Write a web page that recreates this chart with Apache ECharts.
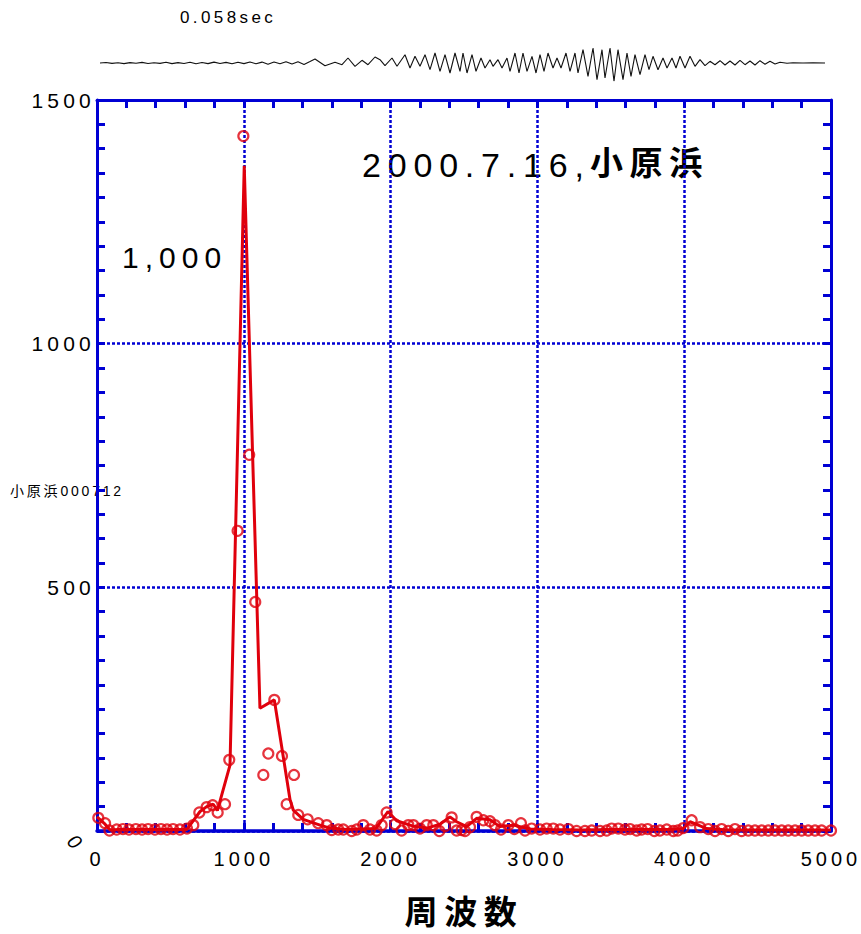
<!DOCTYPE html>
<html>
<head>
<meta charset="utf-8">
<script src="https://cdn.jsdelivr.net/npm/echarts@6/dist/echarts.min.js"></script>
<style>
html,body{margin:0;padding:0;background:#fff}
#main{width:861px;height:934px}
#main text{letter-spacing:0.2em}
</style>
</head>
<body>
<div id="main"></div>
<script>

// spectrum (frequency Hz, amplitude) - solid red line
var lineData = [
  [0,29],[55,14],[89,2],[150,3],[300,3],[450,3],[611,3],[702,40],[747,50],[792,55],[820,42],
  [906,135],[1003,1365],[1110,252],[1208,269],[1315,64],[1337,43],[1405,24],[1519,12],[1587,6],
  [1700,3],[1800,4],[1900,5],[1982,40],[2041,21],[2153,10],[2250,6],[2336,14],[2404,29],[2450,19],
  [2518,9],[2586,26],[2677,23],[2745,9],[2836,12],[2950,4],[3100,3],[3300,2],[3500,3],[3700,3],
  [3900,3],[3994,5],[4040,19],[4096,12],[4153,5],[4300,2],[4500,2],[4700,2],[5000,2]
];

// spectrum raw points - open red circles
var pointData = [
  [9,27],[55,16],[85,1],[134,3],[177,4],[218,3],[265,4],[307,3],[348,4],[395,3],[436,4],[477,3],
  [518,4],[565,3],[613,5],[656,12],[697,38],[747,49],[788,53],[822,38],[872,55],[901,146],[958,616],
  [997,1426],[1037,772],[1078,470],[1133,115],[1167,159],[1208,269],[1260,154],[1292,55],[1342,115],
  [1371,33],[1435,24],[1507,16],[1565,12],[1599,2],[1644,3],[1678,3],[1735,0],[1769,3],[1814,12],
  [1860,3],[1905,1],[1939,12],[1973,38],[2030,14],[2075,1],[2121,12],[2155,12],[2200,5],[2246,12],
  [2291,12],[2332,0],[2371,10],[2416,28],[2450,1],[2484,2],[2507,0],[2541,8],[2586,29],[2632,22],
  [2677,20],[2711,12],[2752,3],[2802,12],[2843,4],[2888,16],[2916,1],[2961,5],[3018,3],[3063,5],
  [3108,5],[3154,3],[3211,4],[3267,0],[3324,0],[3370,1],[3427,0],[3472,1],[3506,5],[3551,5],
  [3597,3],[3631,4],[3676,1],[3710,3],[3751,4],[3797,0],[3835,1],[3881,3],[3926,0],[3956,1],
  [3994,6],[4051,22],[4108,8],[4164,4],[4210,0],[4255,4],[4300,0],[4346,4],[4391,0],[4437,1],
  [4482,1],[4528,1],[4573,1],[4618,1],[4664,1],[4709,1],[4755,1],[4800,1],[4845,1],[4891,1],
  [4936,1],[5000,1]
];

// waveform above the chart (time, amplitude) read at its turning points
var waveData = [
  [0,0],[6,0.5],[12,-0.4],[18,0.3],[24,-0.6],[30,0.4],[36,-0.3],[42,0.6],[48,-0.5],[54,0.3],
  [60,-0.4],[66,0.7],[72,-0.6],[78,0.4],[84,-0.5],[90,0.8],[96,-0.7],[102,0.5],[108,-0.6],[114,0.9],
  [120,-0.5],[126,0.6],[132,-0.8],[138,0.7],[144,-0.6],[150,1.0],[156,-0.8],[162,0.9],[168,-1.2],
  [174,1.0],[180,-0.8],[186,1.3],[192,-1.0],[198,1.2],[204,-1.4],[210,1.5],
  [215,4],[225,-2.7],[235,0.7],[242,-1.7],[248,5],[255,-3.3],[262,2.7],[268,-1.7],[275,6],[280,3.3],
  [285,-2.7],[292,5],[297,-3.3],[305,8.3],[310,-5],[315,6.7],[320,-3.3],[325,8.3],[330,-6.7],
  [335,10],[340,-8.3],[345,8.3],[350,-10],[355,10],[360,-8.3],
  [363,10],[367,-10],[372,8.3],[376,-8.3],[381,5],[385,-5],[390,3.3],[393,-3.3],[398,3.3],[402,-5],
  [407,5],[410,-8.3],[415,10],[419,-10],[423,10],[427,-8.3],[432,6.7],[436,-10],[440,8.3],[444,-8.3],
  [448,10],[453,-5],[457,5],[461,-5],[466,10],[470,-8.3],[475,10],[478,-10],[483,13.3],[488,-13.3],
  [493,15],[497,-16.7],[502,13.3],[505,-15],[510,15],[514,-18.3],[518,13.3],[523,-16.7],[527,10],
  [531,-13.3],[535,8.3],[540,-11.7],[545,8.3],[549,-6.7],[553,6.7],[558,-6.7],[563,5],[567,-5],
  [572,5],[576,-5],[580,6.7],[585,-5],[590,6.7],[595,-3.3],[600,3.3],[605,-2.7],[610,1.7],[615,-1.7],
  [620,2.3],[625,-2],[630,2],[635,-2],[640,2.7],[645,-1.7],[650,2],[655,-2],[660,2.3],[665,-1.3],
  [670,1.7],[675,-1],[680,0.7],[687,-0.3],[693,0.3],[703,0],[713,0.3],[725,0]
];

var xTicks = [0, 1000, 2000, 3000, 4000, 5000];
var yTicks = [0, 500, 1000, 1500];

var blue = '#0000d4';
var red = '#e0000c';
var numFont = 'Liberation Sans';
var cjkFont = 'Noto Sans CJK JP';

var chart = echarts.init(document.getElementById('main'), null, { renderer: 'svg' });

var xMin = xTicks[0], xMax = xTicks[xTicks.length - 1];
var yMin = yTicks[0], yMax = yTicks[yTicks.length - 1];

// axis that only carries the small inward ticks
function tickAxis(pos, min, max, step, withLine) {
  return {
    type: 'value', gridIndex: 0, position: pos, z: 2,
    min: min, max: max, interval: step,
    axisLine: { show: withLine, onZero: false, lineStyle: { color: blue, width: 3 } },
    axisTick: { show: true, inside: true, length: 8, lineStyle: { color: blue, width: 3 } },
    splitLine: { show: false },
    axisLabel: { show: false }
  };
}

var option = {
  animation: false,
  backgroundColor: '#fff',
  grid: [
    { left: 97, top: 100, width: 734, height: 731 },
    { left: 100, top: 45, width: 725, height: 36 }
  ],
  xAxis: [
    {
      type: 'value', gridIndex: 0, position: 'bottom',
      min: xMin, max: xMax, interval: 1000,
      axisLine: { onZero: false, lineStyle: { color: blue, width: 3.5 } },
      axisTick: { show: false },
      splitLine: { show: true, lineStyle: { color: blue, width: 2.5, type: [3, 2] } },
      axisLabel: {
        color: '#000', fontFamily: numFont, fontSize: 20, margin: 18,
        formatter: function (v) { return String(v); }
      },
      name: '周波数',
      nameLocation: 'middle',
      nameGap: 62,
      nameTextStyle: { color: '#000', fontFamily: cjkFont, fontSize: 33, fontWeight: 'bold' }
    },
    tickAxis('bottom', xMin, xMax, 200, false),
    tickAxis('top', xMin, xMax, 200, true),
    { type: 'value', gridIndex: 1, min: 0, max: 725, show: false }
  ],
  yAxis: [
    {
      type: 'value', gridIndex: 0, position: 'left',
      min: yMin, max: yMax, interval: 500,
      axisLine: { onZero: false, lineStyle: { color: blue, width: 3 } },
      axisTick: { show: false },
      splitLine: { show: true, lineStyle: { color: blue, width: 2.5, type: [3, 2] } },
      axisLabel: {
        color: '#000', fontFamily: numFont, fontSize: 21, margin: 2,
        formatter: function (v) { return v === 0 ? '' : String(v); }
      }
    },
    tickAxis('left', yMin, yMax, 50, false),
    tickAxis('right', yMin, yMax, 50, true),
    { type: 'value', gridIndex: 1, min: -18, max: 18, show: false }
  ],
  series: [
    {
      type: 'line',
      xAxisIndex: 0, yAxisIndex: 0,
      data: lineData,
      showSymbol: false,
      lineStyle: { color: red, width: 3 },
      z: 3
    },
    {
      type: 'scatter',
      xAxisIndex: 0, yAxisIndex: 0,
      data: pointData,
      symbol: 'circle',
      symbolSize: 10,
      itemStyle: { color: 'transparent', borderColor: red, borderWidth: 2.2 },
      z: 4
    },
    {
      type: 'line',
      xAxisIndex: 3, yAxisIndex: 3,
      data: waveData,
      showSymbol: false,
      lineStyle: { color: '#111', width: 1.1 }
    }
  ],
  graphic: [
    {
      type: 'text', left: 180, top: 9,
      style: { text: '0.058sec', fill: '#000', font: '17px "Liberation Sans"' }
    },
    {
      type: 'text', left: 362, top: 148,
      style: { text: '2000.7.16,', fill: '#000', font: '34px "Liberation Sans"' }
    },
    {
      type: 'text', left: 590, top: 144,
      style: { text: '小原浜', fill: '#000', font: 'bold 33px "Noto Sans CJK JP"' }
    },
    {
      type: 'text', left: 122, top: 242,
      style: { text: '1,000', fill: '#000', font: '30px "Liberation Sans"' }
    },
    {
      type: 'text', left: 10, top: 484,
      style: { text: '小原浜000712', fill: '#000', font: '14px "Liberation Sans", "Noto Sans CJK JP"' }
    },
    {
      type: 'text', x: 76, y: 843, rotation: -0.8,
      style: { text: '0', fill: '#000', font: 'italic 20px "Liberation Sans"', align: 'center', verticalAlign: 'middle' }
    }
  ]
};

chart.setOption(option);
</script>
</body>
</html>
